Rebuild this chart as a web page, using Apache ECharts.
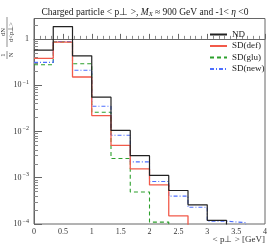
<!DOCTYPE html>
<html><head><meta charset="utf-8">
<script src="https://cdn.jsdelivr.net/npm/echarts@6/dist/echarts.min.js"></script>
<style>html,body{margin:0;padding:0;background:#fff}#c{width:274px;height:248px}</style>
</head><body><div id="c"></div>
<script>
const binEdges = [0, 0.3333, 0.6667, 1, 1.3333, 1.6667, 2, 2.3333, 2.6667, 3, 3.3333, 3.6667, 4];
const ND    = [0.57, 1.84, 0.43, 0.055, 0.0105, 0.003, 0.00112, 0.00053, 0.00026, 0.00012, 0, 0];
const SDdef = [0.38, 0.85, 0.15, 0.022, 0.005, 0.00155, 0.0007, 0.00015, 0, 0, 0, 0];
const SDglu = [0.275, 0.86, 0.29, 0.026, 0.0026, 0.00049, 0.00011, 0, 0, 0, 0, 0];
const SDnew = [0.31, 0.875, 0.21, 0.035, 0.0083, 0.0022, 0.00083, 0.0004, 0.00023, 0.000115, 0.000107, 0];
const xTicks = [0, 0.5, 1, 1.5, 2, 2.5, 3, 3.5, 4];
const yDecades = [-4, -3, -2, -1, 0];

const serif = 'Liberation Serif';
function hist(vals) {
  const pts = vals.map((v, i) => [binEdges[i], v > 0 ? Math.log10(v) : -6]);
  pts.push([binEdges[binEdges.length - 1], pts[pts.length - 1][1]]);
  return pts;
}
const minorVals = [];
for (let d = -4; d < 1; d++) for (let k = 2; k <= 9; k++) {
  const v = d + Math.log10(k);
  if (v <= 0.44) minorVals.push(v);
}
const chart = echarts.init(document.getElementById('c'), null, {renderer: 'canvas'});
const mk = (name, vals, color, type, w) => ({
  name, type: 'line', step: 'end', data: hist(vals), symbol: 'none', showSymbol: false, clip: true,
  lineStyle: {color, width: w, type}, itemStyle: {color}, animation: false
});
const ts = (text, x, y) => ({type: 'text', x, y, style: {text, fontFamily: serif, fontSize: 6.5, fill: '#333', textAlign: 'center', textVerticalAlign: 'middle'}});
chart.setOption({
  animation: false,
  title: {text: 'Charged particle < p\u22a5 >, {i|M}{sb|X} \u2248 900 GeV and -1< {i|\u03b7} <0', left: 140, textAlign: 'center', top: 2,
    textStyle: {fontFamily: serif, fontSize: 9.5, fontWeight: 'normal', color: '#222',
      rich: {i: {fontFamily: serif, fontSize: 9.5, fontStyle: 'italic', color: '#222'},
             sb: {fontFamily: serif, fontSize: 6.5, fontStyle: 'italic', verticalAlign: 'bottom', padding: [4,0,0,0], color: '#222'}}}},
  grid: {left: 34, right: 9, top: 18.5, bottom: 24, show: true, borderColor: '#666', borderWidth: 1},
  legend: {orient: 'vertical', left: 209, top: 30, padding: 0, itemWidth: 17, itemHeight: 8, itemGap: 2.5,
    itemStyle: {opacity: 0},
    textStyle: {fontFamily: serif, fontSize: 9, color: '#222'},
    data: ['ND', 'SD(def)', 'SD(glu)', 'SD(new)']},
  xAxis: {type: 'value', min: 0, max: 4, interval: 0.5,
    axisLine: {lineStyle: {color: '#666'}},
    axisTick: {inside: true, length: 5, lineStyle: {color: '#666'}},
    minorTick: {show: true, splitNumber: 5, length: 3, lineStyle: {color: '#888'}},
    splitLine: {show: false},
    axisLabel: {fontFamily: serif, fontSize: 8, color: '#333', margin: 4, formatter: v => xTicks.includes(v) ? String(v) : ''}},
  yAxis: [
    {type: 'value', min: -4, max: 0.44, position: 'left',
      axisLine: {show: true, lineStyle: {color: '#666'}},
      axisTick: {inside: true, length: 8, customValues: yDecades, lineStyle: {color: '#666'}},
      splitLine: {show: false},
      axisLabel: {customValues: yDecades, fontFamily: serif, fontSize: 8, color: '#333', margin: 5,
        formatter: v => v === 0 ? '1' : '10{s|' + '\u2212' + Math.abs(v) + '}',
        rich: {s: {fontFamily: serif, fontSize: 6, verticalAlign: 'top', padding: [0,0,6,1], color: '#333'}}}},
    {type: 'value', min: -4, max: 0.44, position: 'left',
      axisLine: {show: false},
      axisTick: {inside: true, length: 4, customValues: minorVals, lineStyle: {color: '#888'}},
      splitLine: {show: false},
      axisLabel: {show: false}}
  ],
  graphic: [
    {type: 'text', right: 9, top: 235, style: {text: '< p\u22a5 > [GeV]', fontFamily: serif, fontSize: 9, fill: '#333', textAlign: 'right'}},
    {type: 'group', x: 7, y: 61, rotation: Math.PI / 2, children: [
      ts('1', 6, -3.8), ts('N', 6, 3.8),
      {type: 'line', shape: {x1: 2, y1: 0, x2: 10, y2: 0}, style: {stroke: '#444', lineWidth: 0.6}},
      ts('dN', 29, -3.8), ts('d<p\u22a5>', 29, 3.8),
      {type: 'line', shape: {x1: 14, y1: 0, x2: 44, y2: 0}, style: {stroke: '#444', lineWidth: 0.6}}
    ]}
  ],
  series: [
    mk('SD(glu)', SDglu, '#2ca02c', [4, 3], 1.1),
    mk('SD(new)', SDnew, '#4d6fff', [4, 2, 1, 2], 1.1),
    mk('SD(def)', SDdef, '#f25a4a', 'solid', 1.3),
    mk('ND', ND, '#222', 'solid', 1.2)
  ]
});
</script></body></html>
